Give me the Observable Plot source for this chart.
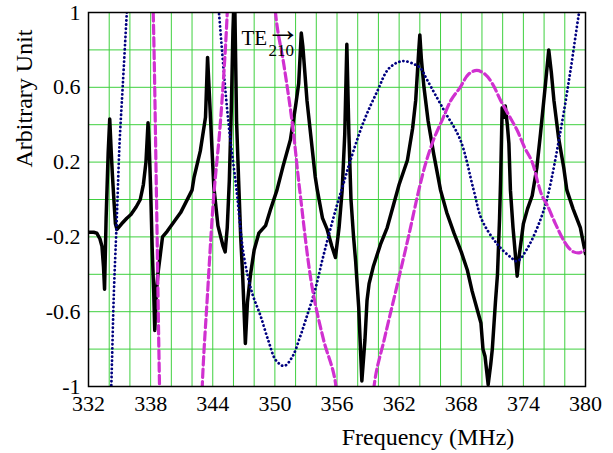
<!DOCTYPE html>
<html>
<head>
<meta charset="utf-8">
<script src="https://cdn.jsdelivr.net/npm/d3@7"></script>
<script src="https://cdn.jsdelivr.net/npm/@observablehq/plot@0.6"></script>
<style>
  html, body { margin: 0; padding: 0; background: #fff; }
</style>
</head>
<body>
<div id="chart"></div>
<script>
// Tick labels
const xTicks = [332, 338, 344, 350, 356, 362, 368, 374, 380];
const yTicks = [-1, -0.6, -0.2, 0.2, 0.6, 1];
const xGrid = [332, 334, 336, 338, 340, 342, 344, 346, 348, 350, 352, 354, 356, 358, 360, 362, 364, 366, 368, 370, 372, 374, 376, 378, 380];
const yGrid = [-1, -0.8, -0.6, -0.4, -0.2, 0, 0.2, 0.4, 0.6, 0.8, 1];

// Black solid series (frequency MHz, amplitude)
const blackF = [332.0, 332.5, 332.8, 333.1, 333.3, 333.45, 333.55, 333.7, 333.9, 334.05, 334.2, 334.3, 334.45, 334.6, 334.75,
  335.2, 335.7, 336.1, 336.6, 337.0, 337.3, 337.55, 337.75, 337.85, 338.0, 338.15, 338.3, 338.4, 338.55, 338.7,
  339.15, 339.6, 340.9, 342.0, 342.2, 342.8, 343.3, 343.5, 343.7, 344.1, 344.5, 345.0, 345.2,
  345.4, 345.6, 345.8, 345.95, 346.1, 346.3, 346.5, 346.7, 346.9, 347.15,
  347.35, 347.65, 348.0, 348.45, 349.1, 349.6, 350.2, 350.8, 351.5, 352.0, 352.3, 352.55, 352.7,
  353.1, 353.9, 354.1, 354.6, 355.05, 355.5, 355.85,
  356.2, 356.5, 356.75, 356.95, 357.15, 357.35, 357.6, 357.8, 358.1, 358.4, 358.7, 358.9, 359.1, 359.5,
  360.2, 360.85, 361.5, 362.0, 362.8, 363.3, 363.6, 363.9, 364.0, 364.15, 364.4, 364.8, 365.35, 366.0,
  366.6, 367.3, 368.0, 368.6, 369.05, 369.5, 369.9, 370.1, 370.3, 370.6, 370.85, 371.0, 371.3, 371.5,
  371.7, 371.8, 371.95, 372.1, 372.25, 372.45, 372.6, 372.75, 373.0, 373.25, 373.4, 373.6, 374.0, 374.4,
  374.85, 375.3, 375.65, 376.1, 376.45, 376.7, 376.95, 377.4, 377.9, 378.2, 378.8, 379.5, 380.0];
const blackA = [-0.175, -0.175, -0.18, -0.21, -0.25, -0.36, -0.48, -0.1, 0.25, 0.43, 0.25, 0.14, 0.0, -0.13, -0.16,
  -0.13, -0.1, -0.08, -0.04, 0.0, 0.08, 0.2, 0.41, 0.3, 0.06, -0.26, -0.5, -0.7, -0.5, -0.4,
  -0.2, -0.17, -0.07, 0.05, 0.12, 0.26, 0.44, 0.76, 0.53, 0.07, -0.14, -0.25, -0.28,
  -0.15, 0.1, 0.5, 0.9, 1.15, 0.42, 0.1, -0.2, -0.42, -0.77,
  -0.55, -0.4, -0.27, -0.18, -0.14, -0.05, 0.05, 0.18, 0.32, 0.5, 0.62, 0.89, 0.82,
  0.53, 0.12, 0.05, -0.1, -0.16, -0.25, -0.31,
  -0.15, 0.05, 0.35, 0.83, 0.35, 0.0, -0.2, -0.33, -0.58, -0.97, -0.75, -0.54, -0.45, -0.36,
  -0.24, -0.15, -0.02, 0.08, 0.21, 0.38, 0.53, 0.8, 0.88, 0.75, 0.6, 0.42, 0.24, 0.05,
  -0.07, -0.18, -0.28, -0.38, -0.49, -0.58, -0.66, -0.8, -0.84, -0.99, -0.88, -0.8, -0.55, -0.4,
  -0.1, 0.1, 0.49, 0.44, 0.5, 0.4, 0.3, 0.05, -0.15, -0.31, -0.41, -0.3, -0.13, -0.05,
  0.02, 0.17, 0.35, 0.6, 0.8, 0.68, 0.53, 0.33, 0.17, 0.05, -0.05, -0.15, -0.29];

// Blue dotted series
const blueF = [334.0, 334.2, 334.45, 334.7, 334.8, 335.0, 335.3, 335.7, 336.0,
  344.2, 344.6, 345.5, 346.3, 347.0, 347.8, 348.6, 349.4, 350.1, 350.9, 351.7, 352.4, 353.0, 353.9, 354.6, 355.3,
  356.0, 356.6, 357.3, 358.6, 359.9, 361.0, 362.3, 363.6, 364.1, 364.7, 366.3, 367.9, 369.2, 370.0, 371.5, 372.8,
  373.4, 374.4, 375.7, 376.4, 377.6, 378.55, 379.35, 380.0];
const blueA = [-1.3, -1.0, -0.5, -0.15, 0.0, 0.3, 0.6, 1.0, 1.3,
  1.3, 1.0, 0.42, 0.05, -0.3, -0.5, -0.62, -0.76, -0.86, -0.89, -0.84, -0.74, -0.64, -0.48, -0.32, -0.17,
  -0.03, 0.08, 0.21, 0.42, 0.58, 0.7, 0.74, 0.72, 0.7, 0.64, 0.48, 0.32, 0.05, -0.11, -0.24, -0.31,
  -0.33, -0.26, -0.1, 0.03, 0.37, 0.69, 0.99, 1.2];

// Magenta dashed series
const magF = [337.9, 338.25, 338.57, 338.86, 339.1, 342.7, 343.0, 343.5, 344.07, 344.75, 345.4, 345.7,
  349.8, 350.06, 350.9, 351.7, 352.4, 353.6, 354.7, 355.85, 356.2, 359.2, 359.6, 360.6, 361.8, 362.9, 363.9,
  364.6, 365.4, 366.2, 367.0, 367.9, 368.7, 369.5, 370.3, 371.0, 371.8, 372.6, 373.4, 374.1, 374.85, 375.4,
  375.8, 376.3, 377.1, 377.9, 378.4, 378.85, 379.4, 380.0];
const magA = [1.6, 1.0, 0.0, -1.0, -1.6, -1.6, -0.98, -0.5, 0.0, 0.42, 1.0, 1.6,
  1.6, 1.0, 0.71, 0.4, 0.05, -0.47, -0.75, -0.98, -1.6, -1.6, -0.99, -0.74, -0.46, -0.2, 0.05,
  0.2, 0.33, 0.43, 0.53, 0.6, 0.67, 0.69, 0.67, 0.62, 0.53, 0.45, 0.37, 0.28, 0.2, 0.09,
  0.02, -0.03, -0.13, -0.22, -0.26, -0.28, -0.285, -0.27];

const black = blackF.map((f, i) => ({f, a: blackA[i]}));
const blue = blueF.map((f, i) => ({f, a: blueA[i]}));
const mag = magF.map((f, i) => ({f, a: magA[i]}));

const fmt = d => String(d);
const serif = "Liberation Serif, Times New Roman, DejaVu Serif, serif";

const chart = Plot.plot({
  width: 613,
  height: 453,
  marginLeft: 88,
  marginRight: 28,
  marginTop: 12,
  marginBottom: 67,
  style: {fontFamily: serif, fontSize: "22px", color: "black", background: "white"},
  x: {domain: [332, 380]},
  y: {domain: [-1, 1]},
  marks: [
    Plot.gridX(xGrid, {stroke: "#3fd03f", strokeOpacity: 1, strokeWidth: 1}),
    Plot.gridY(yGrid, {stroke: "#3fd03f", strokeOpacity: 1, strokeWidth: 1}),
    Plot.line(black, {x: "f", y: "a", stroke: "black", strokeWidth: 3.5, strokeLinejoin: "round", clip: true}),
    Plot.line(blue, {x: "f", y: "a", stroke: "#000080", strokeWidth: 2.8, strokeDasharray: "0.1,4", strokeLinecap: "round", curve: "catmull-rom", clip: true}),
    Plot.line(mag, {x: "f", y: "a", stroke: "#d030d0", strokeWidth: 3.2, strokeDasharray: "8.5,4", curve: "catmull-rom", clip: true}),
    Plot.frame({stroke: "black", strokeWidth: 1.5}),
    Plot.axisX(xTicks, {tickSize: 0, tickPadding: 9, tickFormat: fmt, label: null, fontSize: 22, fontFamily: serif}),
    Plot.axisY(yTicks, {tickSize: 0, tickPadding: 8, tickFormat: fmt, label: null, fontSize: 22, fontFamily: serif}),
    Plot.text(["Frequency (MHz)"], {text: d => d, frameAnchor: "bottom", dx: 91, dy: 58, textAnchor: "middle", lineAnchor: "bottom", fontSize: 24, fontFamily: serif, fill: "black"}),
    Plot.text(["Arbitrary Unit"], {text: d => d, frameAnchor: "left", rotate: -90, dx: -64, dy: -101, textAnchor: "middle", lineAnchor: "middle", fontSize: 24, fontFamily: serif, fill: "black"}),
    Plot.text(["TE"], {text: d => d, frameAnchor: "top-left", dx: 153, dy: 32, textAnchor: "start", lineAnchor: "bottom", fontSize: 21, fontFamily: serif, fill: "black"}),
    Plot.text(["210"], {text: d => d, frameAnchor: "top-left", dx: 180, dy: 43, textAnchor: "start", lineAnchor: "bottom", fontSize: 17, fontFamily: serif, fill: "black"}),
    Plot.text(["\u2192"], {text: d => d, frameAnchor: "top-left", dx: 177, dy: 17, textAnchor: "start", lineAnchor: "middle", fontSize: 35, fontFamily: serif, fill: "black"})
  ]
});
document.getElementById("chart").appendChild(chart);
</script>
</body>
</html>
